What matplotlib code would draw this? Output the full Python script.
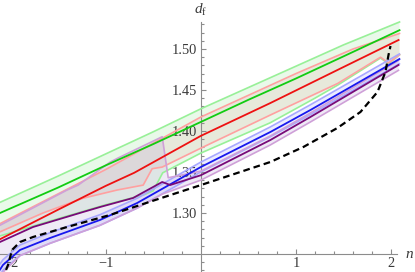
import matplotlib
matplotlib.use("Agg")
import matplotlib.pyplot as plt
import numpy as np

plt.rcParams['font.family'] = ['Liberation Serif', 'DejaVu Serif']
plt.rcParams['mathtext.fontset'] = 'custom'
plt.rcParams['mathtext.rm'] = 'Liberation Serif'
plt.rcParams['mathtext.it'] = 'Liberation Serif:italic'

# ---------------- data ----------------
green_x = [-2.11, -1.5, -1.0, -0.5, 0.0, 0.5, 1.0, 1.5, 2.09]
green_y = [1.300, 1.331, 1.358, 1.384, 1.411, 1.438, 1.464, 1.491, 1.523]
green_hi_y = [1.313, 1.345, 1.372, 1.399, 1.427, 1.453, 1.479, 1.505, 1.533]
green_lo_x = [-2.11, -1.5, -1.0, -0.6, -0.5, -0.4, 0.0, 0.73, 1.2, 1.44, 1.89, 1.974, 2.09]
green_lo_y = [1.272, 1.293, 1.310, 1.322, 1.327, 1.349, 1.373, 1.410, 1.440, 1.456, 1.489, 1.482, 1.493]

red_x = [-2.11, -1.5, -1.0, -0.7, 0.0, 0.73, 1.5, 2.08]
red_y = [1.268, 1.304, 1.333, 1.349, 1.394, 1.434, 1.478, 1.511]
pink_hi_x = [-2.11, -1.0, 0.0, 1.0, 1.6, 2.09]
pink_hi_y = [1.287, 1.353, 1.417, 1.470, 1.500, 1.519]
pink_lo_x = [-2.11, -1.658, -1.237, -0.879, -0.605, -0.511, -0.405, 0.0, 0.732, 1.2, 1.44, 1.89, 1.974, 2.09]
pink_lo_y = [1.277, 1.300, 1.318, 1.328, 1.334, 1.354, 1.356, 1.379, 1.4195, 1.445, 1.458, 1.490, 1.483, 1.493]

blue_x = [-2.11, -2.079, -1.9, -1.584, -1.058, -0.668, 0.0, 0.732, 1.153, 2.089]
blue_y = [1.231, 1.2366, 1.2549, 1.2695, 1.2915, 1.3122, 1.356, 1.3988, 1.4256, 1.4878]
blue_hi_y = [1.238, 1.243, 1.261, 1.276, 1.298, 1.318, 1.362, 1.405, 1.432, 1.494]
blue_lo_y = [1.224, 1.230, 1.248, 1.263, 1.285, 1.306, 1.350, 1.393, 1.420, 1.482]

purple_x = [-2.111, -1.763, -1.237, -1.058, -0.711, -0.405, -0.321, 0.0, 0.732, 1.153, 2.079]
purple_y = [1.2646, 1.2829, 1.3012, 1.3073, 1.3183, 1.3378, 1.3341, 1.346, 1.389, 1.4171, 1.4805]
purple_hi_x = [-2.111, -1.405, -1.289, -0.953, -0.87, -0.405, -0.342, 0.0, 0.732, 1.153, 2.079]
purple_hi_y = [1.285, 1.328, 1.334, 1.362, 1.367, 1.393, 1.343, 1.351, 1.394, 1.422, 1.486]
purple_lo_x = [-2.111, -1.9, -1.584, -1.058, -0.668, -0.405, 0.0, 0.732, 1.153, 2.079]
purple_lo_y = [1.224, 1.248, 1.263, 1.285, 1.306, 1.323, 1.340, 1.383, 1.411, 1.474]

dash_x = [-2.047, -2.026, -1.984, -1.9, -1.763, -1.405, -0.953, -0.5, 0.0, 0.732,
          1.079, 1.437, 1.679, 1.858, 1.942, 1.974, 1.995]
dash_y = [1.2305, 1.2366, 1.2549, 1.2646, 1.2707, 1.2829, 1.2976, 1.315, 1.334, 1.3622,
          1.3805, 1.4037, 1.4232, 1.4476, 1.4720, 1.4927, 1.5037]

x_major = [-2, -1, 1, 2]
x_labels = ['\u22122', '\u22121', '1', '2']
y_major = [1.30, 1.35, 1.40, 1.45, 1.50]
y_labels = ['1.30', '1.35', '1.40', '1.45', '1.50']

# ---------------- figure ----------------
fig = plt.figure(figsize=(4.15, 2.72), dpi=100)
ax = fig.add_axes([0, 0, 1, 1])
ax.set_xlim(-2.1105, 2.2526)
ax.set_ylim(1.228, 1.5598)
ax.patch.set_alpha(0)


def band(xu, yu, xl, yl, color, alpha):
    ax.fill(np.r_[xu, xl[::-1]], np.r_[yu, yl[::-1]], color=color, alpha=alpha,
            lw=0, zorder=1)


band(np.array(green_x), np.array(green_hi_y), np.array(green_lo_x), np.array(green_lo_y), '#80e080', 0.17)
band(np.array(pink_hi_x), np.array(pink_hi_y), np.array(pink_lo_x), np.array(pink_lo_y), '#e09090', 0.15)
band(np.array(blue_x), np.array(blue_hi_y), np.array(blue_x), np.array(blue_lo_y), '#9090ff', 0.17)
band(np.array(purple_hi_x), np.array(purple_hi_y), np.array(purple_lo_x), np.array(purple_lo_y), '#b8a0d8', 0.22)

lw_edge = 1.2
ax.plot(green_x, green_hi_y, color='#98f098', lw=lw_edge, zorder=3)
ax.plot(green_lo_x, green_lo_y, color='#98f098', lw=lw_edge, zorder=3)
ax.plot(pink_hi_x, pink_hi_y, color='#ffa0a0', lw=lw_edge, zorder=3)
ax.plot(pink_lo_x, pink_lo_y, color='#ffa0a0', lw=lw_edge, zorder=3)
ax.plot(blue_x, blue_hi_y, color='#a8a8ff', lw=lw_edge, zorder=3)
ax.plot(blue_x, blue_lo_y, color='#a8a8ff', lw=lw_edge, zorder=3)
ax.plot(purple_hi_x, purple_hi_y, color='#cfa0d8', lw=lw_edge, zorder=3)
ax.plot(purple_lo_x, purple_lo_y, color='#cfa0d8', lw=lw_edge, zorder=3)

lw_c = 1.3
ax.plot(green_x, green_y, color='#12cc12', lw=lw_c, zorder=4)
ax.plot(red_x, red_y, color='#ee1111', lw=lw_c, zorder=4)
ax.plot(blue_x, blue_y, color='#1818ee', lw=lw_c, zorder=4)
ax.plot(purple_x, purple_y, color='#780a78', lw=lw_c, zorder=4)
ax.plot(dash_x, dash_y, color='black', lw=1.6, dashes=(3, 1.8), zorder=5)

# axes in Mathematica style
for s in ['top', 'right']:
    ax.spines[s].set_visible(False)
ax.spines['left'].set_position(('data', 0))
ax.spines['bottom'].set_position(('data', 1.25))
ax.spines['left'].set_bounds(1.228, 1.533)
ax.spines['bottom'].set_bounds(-2.1105, 2.068)
for s in ['left', 'bottom']:
    ax.spines[s].set_color('#8c8c8c')
    ax.spines[s].set_linewidth(0.8)
    ax.spines[s].set_zorder(2)

ax.set_xticks(x_major)
ax.set_xticklabels(x_labels)
ax.set_xticks([v for v in np.arange(-2.0, 2.01, 0.2) if abs(v - round(v)) > 1e-6], minor=True)
ax.set_yticks(y_major)
ax.set_yticklabels(y_labels)
ax.set_yticks([v for v in np.arange(1.23, 1.535, 0.01) if abs(v * 20 - round(v * 20)) > 1e-6], minor=True)
ax.tick_params(which='both', direction='in', color='#8c8c8c', width=0.8,
               labelsize=10.4, labelcolor='#3a3a3a')
ax.tick_params(which='major', length=3.6)
ax.tick_params(which='minor', length=2.0)
ax.tick_params(axis='x', pad=2.5)
ax.tick_params(axis='y', pad=2.5)

ax.text(2.195, 1.249, r'$n$', ha='center', va='center', fontsize=11, color='#3a3a3a')
ax.text(0.0, 1.5476, r'$d_{\mathrm{f}}$', ha='center', va='center', fontsize=11, color='#3a3a3a')

fig.savefig('out.png', dpi=100)
